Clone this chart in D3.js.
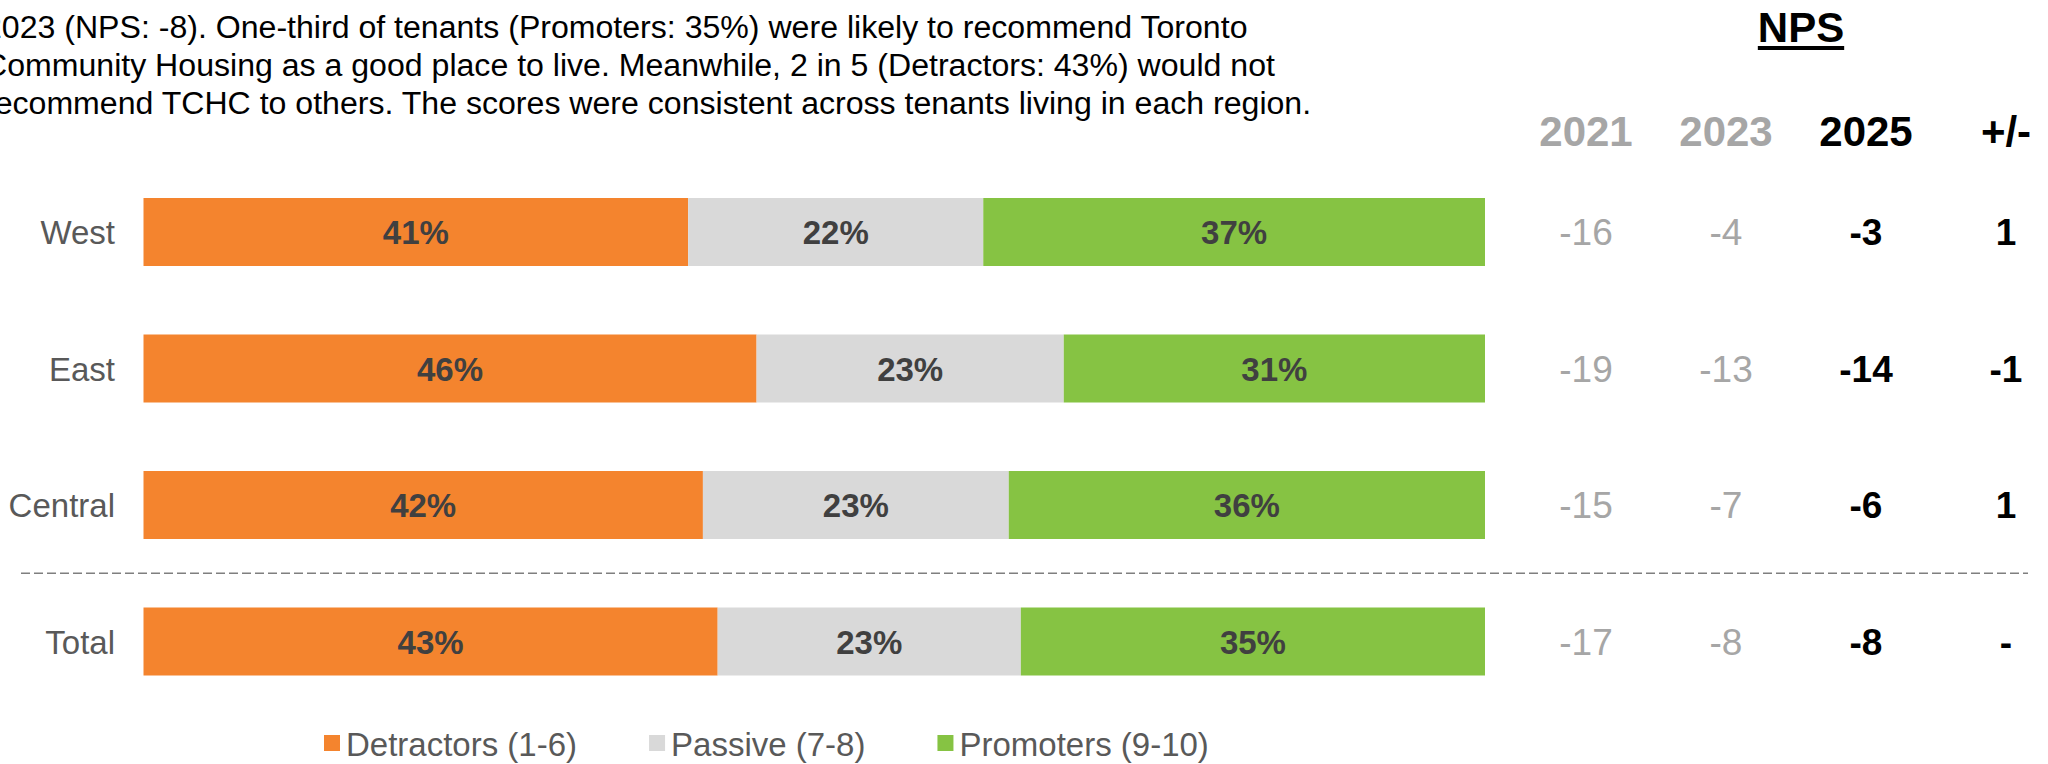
<!DOCTYPE html>
<html>
<head>
<meta charset="utf-8">
<script src="https://cdn.jsdelivr.net/npm/d3@7"></script>
<style>
  html, body { margin: 0; padding: 0; background: #fff; overflow: hidden; }
  svg { display: block; font-family: Arial, "Liberation Sans", sans-serif; }
</style>
</head>
<body>
<svg id="chart" width="2048" height="764"></svg>
<script>
// ---- data ----
const categories = ["West", "East", "Central", "Total"];
const detractors = [40.6, 45.7, 41.7, 42.8];
const passive    = [22.0, 22.9, 22.8, 22.6];
const promoters  = [37.4, 31.4, 35.5, 34.6];
const seriesNames = ["Detractors (1-6)", "Passive (7-8)", "Promoters (9-10)"];
const seriesColors = ["#F4842E", "#D9D9D9", "#86C343"];
const npsYears = ["2021", "2023", "2025", "+/-"];
const nps2021 = [-16, -19, -15, -17];
const nps2023 = [-4, -13, -7, -8];
const nps2025 = [-3, -14, -6, -8];
const npsChange = ["1", "-1", "1", "-"];
const paragraph = [
  "2023 (NPS: -8). One-third of tenants (Promoters: 35%) were likely to recommend Toronto",
  "Community Housing as a good place to live. Meanwhile, 2 in 5 (Detractors: 43%) would not",
  "recommend TCHC to others. The scores were consistent across tenants living in each region."
];

// ---- layout ----
const svg = d3.select("#chart");
const x = d3.scaleLinear().domain([0, 100]).range([143.5, 1485]);
const step = 136.5, bw = 68;
const r0 = 198 - (step - bw) / 2;
const y = d3.scaleBand().domain(categories)
  .range([r0, r0 + step * categories.length])
  .paddingInner((step - bw) / step).paddingOuter((step - bw) / step / 2);

// paragraph (cut off at the left edge, as in the reference)
svg.append("g").selectAll("text").data(paragraph).join("text")
  .attr("x", -16).attr("y", (d, i) => 38 + i * 38)
  .attr("font-size", 32.1).attr("fill", "#000").text(d => d);

// stacked data
const rows = categories.map((c, i) => ({cat: c, vals: [detractors[i], passive[i], promoters[i]]}));
const segs = [];
rows.forEach(r => {
  let acc = 0;
  r.vals.forEach((v, k) => { segs.push({cat: r.cat, k, x0: acc, x1: acc + v, v}); acc += v; });
});

svg.append("g").selectAll("rect").data(segs).join("rect")
  .attr("x", d => x(d.x0)).attr("width", d => x(d.x1) - x(d.x0))
  .attr("y", d => y(d.cat)).attr("height", y.bandwidth())
  .attr("fill", d => seriesColors[d.k]);

svg.append("g").selectAll("text").data(segs).join("text")
  .attr("x", d => (x(d.x0) + x(d.x1)) / 2)
  .attr("y", d => y(d.cat) + y.bandwidth() / 2 + 12)
  .attr("text-anchor", "middle").attr("font-size", 33).attr("font-weight", "bold")
  .attr("fill", "#404040").text(d => Math.round(d.v) + "%");

// category labels
svg.append("g").selectAll("text").data(categories).join("text")
  .attr("x", 115).attr("y", d => y(d) + y.bandwidth() / 2 + 12)
  .attr("text-anchor", "end").attr("font-size", 33).attr("fill", "#595959").text(d => d);

// dashed separator
const sepY = (y("Central") + y.bandwidth() + y("Total")) / 2;
svg.append("line").attr("x1", 21).attr("x2", 2028).attr("y1", sepY).attr("y2", sepY)
  .attr("stroke", "#7F7F7F").attr("stroke-width", 1.5).attr("stroke-dasharray", "9,4");

// NPS table
const colX = d3.scalePoint().domain(npsYears).range([1586, 2006]);
const npsTitle = svg.append("text").attr("x", (colX("2023") + colX("2025")) / 2 + 5).attr("y", 42)
  .attr("text-anchor", "middle").attr("font-size", 42).attr("font-weight", "bold").attr("fill", "#000").text("NPS");
const tb = npsTitle.node().getBBox();
svg.append("rect").attr("x", tb.x).attr("y", 46).attr("width", tb.width).attr("height", 4).attr("fill", "#000");

const headColor = ["#A6A6A6", "#A6A6A6", "#000", "#000"];
svg.append("g").selectAll("text").data(npsYears).join("text")
  .attr("x", d => colX(d)).attr("y", 146).attr("text-anchor", "middle")
  .attr("font-size", 42).attr("font-weight", "bold")
  .attr("fill", (d, i) => headColor[i]).text(d => d);

const cols = [
  {key: "2021", vals: nps2021, color: "#A6A6A6", weight: "normal"},
  {key: "2023", vals: nps2023, color: "#A6A6A6", weight: "normal"},
  {key: "2025", vals: nps2025, color: "#000", weight: "bold"},
  {key: "+/-", vals: npsChange, color: "#000", weight: "bold"}
];
cols.forEach(c => {
  svg.append("g").selectAll("text").data(categories).join("text")
    .attr("x", colX(c.key)).attr("y", d => y(d) + y.bandwidth() / 2 + 13)
    .attr("text-anchor", "middle").attr("font-size", 37).attr("font-weight", c.weight)
    .attr("fill", c.color).text((d, i) => c.vals[i]);
});

// legend
const lg = svg.append("g");
let lx = 324;
seriesNames.forEach((n, i) => {
  lg.append("rect").attr("x", lx).attr("y", 735).attr("width", 16).attr("height", 16).attr("fill", seriesColors[i]);
  const t = lg.append("text").attr("x", lx + 22).attr("y", 756).attr("font-size", 33).attr("fill", "#595959").text(n);
  lx += 22 + t.node().getComputedTextLength() + 72;
});
</script>
</body>
</html>
